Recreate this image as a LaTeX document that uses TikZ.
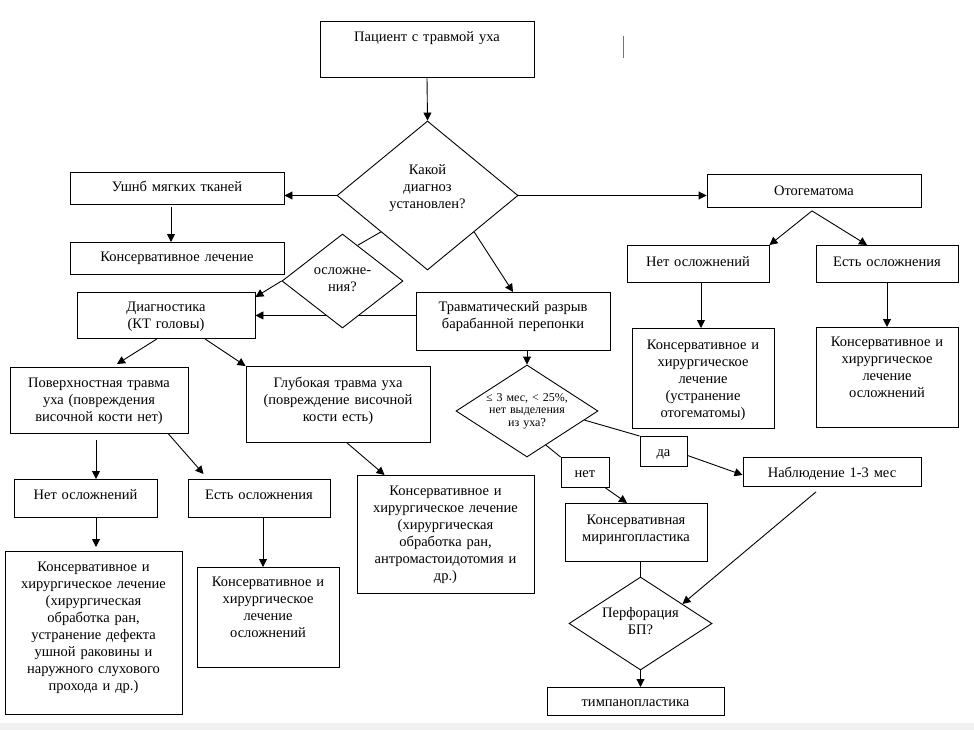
\documentclass[tikz,border=0pt]{standalone}
\usepackage{fontspec}
\setmainfont{Liberation Serif}
\usetikzlibrary{arrows.meta,shapes.geometric}

\tikzset{
	box/.style n args={3}{draw, rectangle, align=center, inner sep=4pt,
		text width=#1, text height=#2, text depth=#3, anchor=north},
	ask/.style n args={3}{draw, diamond, fill=white, align=center, inner sep=0pt,
		text width=#1, text height=#2, text depth=#3}
}

\begin{document}
\begin{tikzpicture}[x=1pt, y=-1pt, line width=0.9pt,
		>={Triangle[length=8pt,width=8pt]},
		font=\fontsize{14.5}{17}\selectfont]
		\useasboundingbox (0,0) rectangle (974,730);
		
		% screen strip and cursor
		\fill[black!6] (0,723) rectangle (974,730);
		\draw[black!55, line width=0.6pt] (623,36) -- (623,58);
		
		% top
		\node[box={206pt}{16pt}{32pt}] (patient) at (427,21) {Пациент с травмой уха};
		\node[ask={90pt}{12pt}{53pt}, aspect=1.215, minimum width=181pt, minimum height=149pt]
			(which) at (427.5,195.5) {Какой\\диагноз\\установлен?};
		
		% soft tissue
		\node[box={206pt}{15pt}{9pt}] (soft) at (177,172) {Ушнб мягких тканей};
		\node[box={206pt}{15pt}{9pt}] (cons) at (177,242) {Консервативное лечение};
		
		% otohematoma
		\node[box={206pt}{17pt}{8pt}] (otohem) at (814,174) {Отогематома};
		\node[box={134pt}{17pt}{12pt}] (oNo) at (698,245) {Нет осложнений};
		\node[box={134pt}{17pt}{12pt}] (oYes) at (887,245) {Есть осложнения};
		\node[box={134pt}{17pt}{75pt}] (oNoTr) at (703,328)
			{Консервативное и\\хирургическое\\лечение\\(устранение\\отогематомы)};
		\node[box={134pt}{15pt}{77pt}] (oYesTr) at (887,327)
			{Консервативное и\\хирургическое\\лечение\\осложнений};
		
		% diagnostics
		\node[box={170pt}{15pt}{23pt}] (diag) at (166,292) {Диагностика\\(КТ головы)};
		\node[box={186pt}{15pt}{35pt}] (trauma) at (513,292)
			{Травматический разрыв\\барабанной перепонки};
		\draw[->] (trauma.west |- diag.east) -- (diag.east);
		\node[ask={70pt}{10pt}{24pt}, aspect=1.287, minimum width=121pt, minimum height=94pt]
			(compl) at (342.5,281) {осложне-\\ния?};
		
		% left branch
		\node[box={170pt}{16pt}{42pt}] (surf) at (99,367)
			{Поверхностная травма\\уха (повреждения\\височной кости нет)};
		\node[box={176pt}{17pt}{51pt}] (deep) at (338,366)
			{Глубокая травма уха\\(повреждение височной\\кости есть)};
		\node[box={135pt}{16pt}{14pt}] (sNo) at (85.5,479) {Нет осложнений};
		\node[box={134pt}{16pt}{14pt}] (sYes) at (259,479) {Есть осложнения};
		\node[box={169pt}{16pt}{139pt}] (sNoTr) at (93.5,551)
			{Консервативное и\\хирургическое лечение\\(хирургическая\\обработка ран,\\устранение дефекта\\ушной раковины и\\наружного слухового\\прохода и др.)};
		\node[box={134pt}{15pt}{77pt}] (sYesTr) at (268,567)
			{Консервативное и\\хирургическое\\лечение\\осложнений};
		\node[box={169pt}{16pt}{94pt}] (deepTr) at (445.5,475)
			{Консервативное и\\хирургическое лечение\\(хирургическая\\обработка ран,\\антромастоидотомия и\\др.)};
		
		% eardrum
		\node[ask={84pt}{8pt}{28pt}, aspect=1.543, minimum width=142pt, minimum height=92pt,
			font=\fontsize{12}{12.5}\selectfont] (crit) at (527,411)
			{≤ 3 мес, < 25\%,\\нет выделения\\из уха?};
		\node[box={39pt}{16pt}{6pt}] (yes) at (663.5,436) {да};
		\node[box={40pt}{16pt}{6pt}] (no) at (585,457) {нет};
		\node[box={170pt}{16pt}{5pt}] (observe) at (832,457) {Наблюдение 1-3 мес};
		\node[box={134pt}{17pt}{33pt}] (myr) at (636,503) {Консервативная\\мирингопластика};
		\node[ask={80pt}{10pt}{23pt}, aspect=1.538, minimum width=143pt, minimum height=93pt]
			(perf) at (640.5,623.5) {Перфорация\\БП?};
		\node[box={169pt}{15pt}{5pt}] (tymp) at (635.5,687) {тимпанопластика};
		
		% connectors
		\draw[->] (patient.south) -- (which.north);
		\draw[->] (which.west) -- (which.west -| soft.east);
		\draw[->] ([xshift=-6pt,yshift=-2pt]soft.south) -- ([xshift=-6pt]cons.north);
		\draw[->] (which.east) -- (which.east -| otohem.west);
		\draw[->] ([xshift=-2pt,yshift=-3pt]otohem.south) -- (oNo.north east);
		\draw[->] ([xshift=-2pt,yshift=-3pt]otohem.south) -- ([xshift=-20pt]oYes.north);
		\draw[->] ([xshift=3pt]oNo.south) -- ([xshift=-2pt]oNoTr.north);
		\draw[->] (oYes.south) -- (oYesTr.north);
		\draw (which.218) -- (compl.67);
		\draw[->] (compl.west) -- ([yshift=-5pt]diag.north east);
		\draw[->] (which.322) -- (trauma.north);
		\draw[->] (trauma.south -| crit.north) -- (crit.north);
		\draw (crit.351) -- (yes.north west);
		\draw[->] ([yshift=-4pt]yes.east) -- ([yshift=-3pt]observe.west);
		\draw (crit.299) -- (no.north west);
		\draw[->] ([xshift=-4pt]no.south east) -- ([xshift=-9pt]myr.north);
		\draw[->] ([xshift=-16pt,yshift=-5pt]observe.south) -- (perf.25);
		\draw (myr.south -| perf.north) -- (perf.north);
		\draw[->] (perf.south) -- (perf.south |- tymp.north);
		\draw[->] ([xshift=-9pt]diag.south) -- ([xshift=18pt,yshift=3pt]surf.north);
		\draw[->] ([xshift=39pt]diag.south) -- (deep.north west);
		\draw[->] ([xshift=-3pt,yshift=-6pt]surf.south) -- ([xshift=10.5pt]sNo.north);
		\draw[->] ([xshift=-20pt]surf.south east) -- ([xshift=16pt,yshift=5pt]sYes.north west);
		\draw[->] ([xshift=10.5pt]sNo.south) -- ([xshift=2.5pt,yshift=4pt]sNoTr.north);
		\draw[->] ([xshift=4pt]sYes.south) -- ([xshift=-5pt]sYesTr.north);
		\draw[->] ([xshift=9pt]deep.south) -- ([xshift=28pt]deepTr.north west);
	\end{tikzpicture}
\end{document}
